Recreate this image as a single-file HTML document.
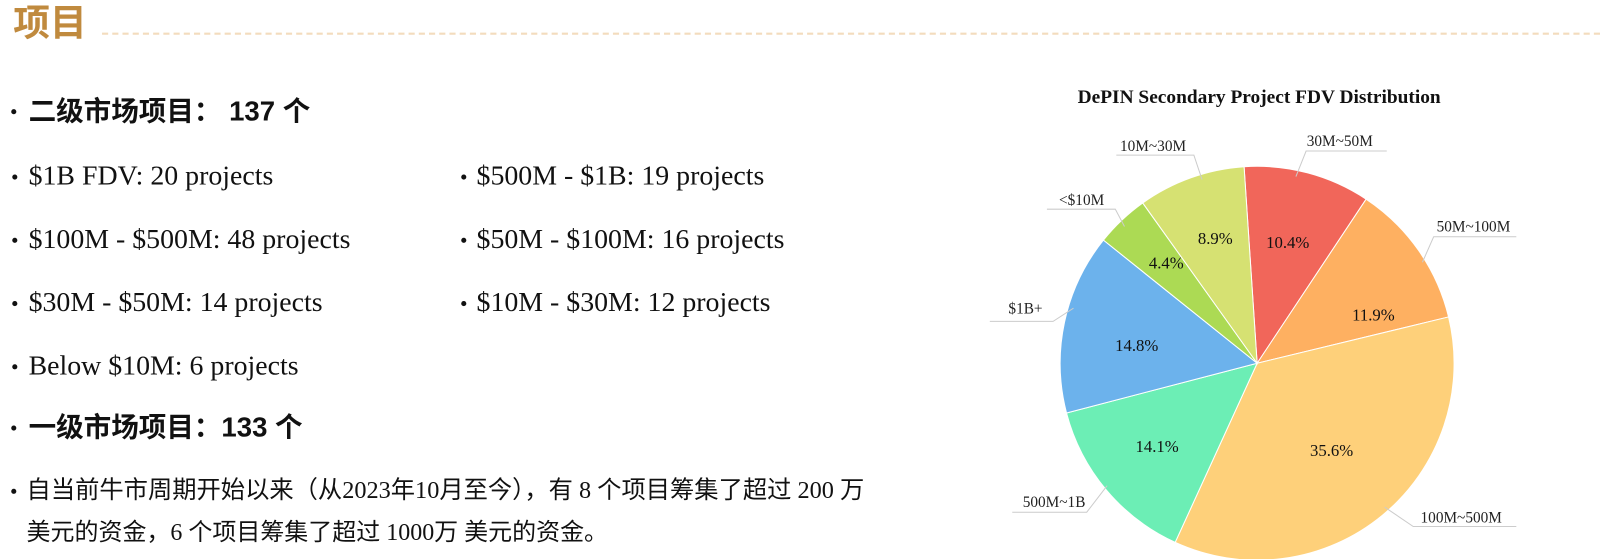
<!DOCTYPE html>
<html><head><meta charset="utf-8"><style>
html,body{margin:0;padding:0;background:#fff;width:1600px;height:559px;overflow:hidden;position:relative}
#w{position:absolute;left:0;top:0;width:1568px;height:548px;transform:scale(1.0204);transform-origin:0 0}
.a{position:absolute;white-space:nowrap;line-height:1}
.h{font-family:"Liberation Sans","Noto Sans CJK SC",sans-serif;font-weight:bold;color:#c08a3e;font-size:36px;left:13px;top:5px}
.b{font-family:"Liberation Sans","Noto Sans CJK SC",sans-serif;font-weight:bold;font-size:27px;color:#111}
.s{font-family:"Liberation Serif",serif;font-size:27.3px;color:#111}
.p{font-family:"Liberation Serif","Noto Sans CJK SC",sans-serif;font-size:23.8px;color:#111}
.p2{font-size:23.5px}
.d{position:absolute;width:5px;height:5px;border-radius:50%;background:#111}
</style></head><body><div id="w">
<div class="a h">项目</div>
<div style="position:absolute;left:100px;top:32px;width:1468px;border-top:2px dashed #f3dcbd"></div>

<div class="d" style="left:11px;top:107px"></div>
<div class="a b" style="left:28px;top:96px">二级市场项目： 137 个</div>

<div class="d" style="left:12px;top:171px"></div><div class="a s" style="left:28px;top:159px">$1B FDV: 20 projects</div>
<div class="d" style="left:452px;top:171px"></div><div class="a s" style="left:467px;top:159px">$500M - $1B: 19 projects</div>
<div class="d" style="left:12px;top:233px"></div><div class="a s" style="left:28px;top:221px">$100M - $500M: 48 projects</div>
<div class="d" style="left:452px;top:233px"></div><div class="a s" style="left:467px;top:221px">$50M - $100M: 16 projects</div>
<div class="d" style="left:12px;top:295px"></div><div class="a s" style="left:28px;top:283px">$30M - $50M: 14 projects</div>
<div class="d" style="left:452px;top:295px"></div><div class="a s" style="left:467px;top:283px">$10M - $30M: 12 projects</div>
<div class="d" style="left:12px;top:357px"></div><div class="a s" style="left:28px;top:345px">Below $10M: 6 projects</div>

<div class="d" style="left:11px;top:417px"></div>
<div class="a b" style="left:28px;top:406px">一级市场项目：133 个</div>

<div class="d" style="left:11px;top:479px"></div>
<div class="a p" style="left:26px;top:470px">自当前牛市周期开始以来（从2023年10月至今），有 8 个项目筹集了超过 200 万</div>
<div class="a p p2" style="left:26px;top:511px">美元的资金，6 个项目筹集了超过 1000万 美元的资金。</div>

<svg style="position:absolute;left:0;top:0" width="1568" height="548">
<text x="1234" y="101" text-anchor="middle" font-family="Liberation Serif" font-weight="bold" font-size="19" fill="#111">DePIN Secondary Project FDV Distribution</text>
<g stroke="#fff" stroke-width="1">
<path d="M1232,356 L1219.2,163.4 A193,193 0 0 1 1338.8,195.2 Z" fill="#f1665a"/>
<path d="M1232,356 L1338.8,195.2 A193,193 0 0 1 1419.6,310.6 Z" fill="#feb061"/>
<path d="M1232,356 L1419.6,310.6 A193,193 0 0 1 1151.7,531.5 Z" fill="#fed07a"/>
<path d="M1232,356 L1151.7,531.5 A193,193 0 0 1 1045.2,404.7 Z" fill="#6ceeb5"/>
<path d="M1232,356 L1045.2,404.7 A193,193 0 0 1 1081.4,235.3 Z" fill="#6cb2ec"/>
<path d="M1232,356 L1081.4,235.3 A193,193 0 0 1 1119.9,198.9 Z" fill="#acda54"/>
<path d="M1232,356 L1119.9,198.9 A193,193 0 0 1 1219.2,163.4 Z" fill="#d6e172"/>
</g>
<g stroke="#ccc" stroke-width="1" fill="none">
<polyline points="1094,152 1170,152 1178,176"/>
<polyline points="1359,148 1280,148 1270,173"/>
<polyline points="1026,205 1093,205 1102,222"/>
<polyline points="1486,232 1405,232 1394,257"/>
<polyline points="970,315 1032,315 1052,302"/>
<polyline points="992,502 1065,502 1085,476"/>
<polyline points="1486,516 1385,516 1357,497"/>
</g>
<g font-family="Liberation Serif" font-size="15" fill="#222" text-anchor="middle">
<text x="1130" y="148">10M~30M</text>
<text x="1313" y="143">30M~50M</text>
<text x="1060" y="201">&lt;$10M</text>
<text x="1444" y="227">50M~100M</text>
<text x="1005" y="307">$1B+</text>
<text x="1033" y="497">500M~1B</text>
<text x="1432" y="512">100M~500M</text>
</g>
<g font-family="Liberation Serif" font-size="16.4" fill="#111" text-anchor="middle">
<text x="1191" y="239">8.9%</text>
<text x="1262" y="243">10.4%</text>
<text x="1143" y="263">4.4%</text>
<text x="1346" y="314">11.9%</text>
<text x="1114" y="344">14.8%</text>
<text x="1134" y="443">14.1%</text>
<text x="1305" y="447">35.6%</text>
</g>
</svg>
</div></body></html>
